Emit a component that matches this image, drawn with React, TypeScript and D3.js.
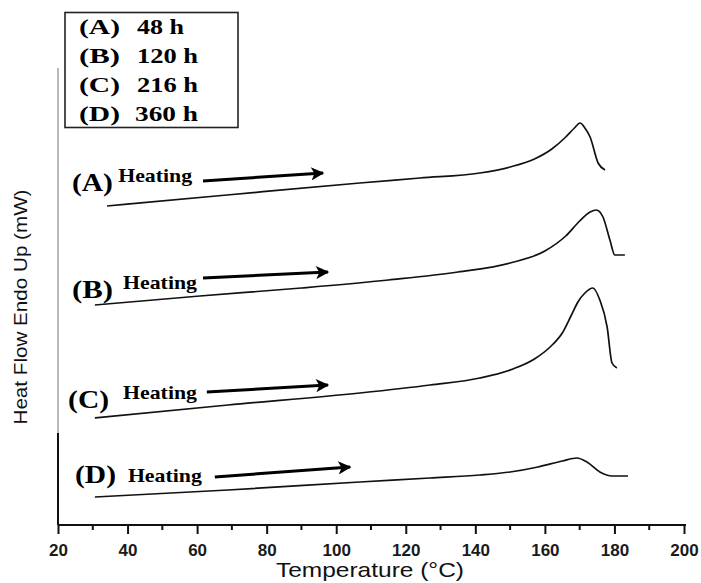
import * as d3 from 'd3'
import { useEffect, useRef } from 'react'

// DSC traces, temperature (°C) vs heat flow (arbitrary units)
const tempA = [34.1, 68.6, 106.8, 124.1, 141.3, 150.0, 157.0, 162.0, 166.0, 168.5, 170.1, 171.5, 173.0, 175.3, 177.3]
const flowA = [32.0, 33.1, 34.3, 34.8, 35.3, 35.9, 36.7, 37.7, 38.9, 39.8, 40.3, 39.8, 38.9, 36.3, 35.6]
const tempB = [30.6, 60.8, 90.0, 115.0, 135.0, 150.0, 160.0, 166.0, 170.0, 173.0, 174.8, 176.7, 178.7, 180.1, 183.0]
const flowB = [22.1, 23.0, 23.8, 24.6, 25.4, 26.3, 27.5, 29.0, 30.5, 31.4, 31.6, 30.9, 28.6, 27.1, 27.1]
const tempC = [30.6, 68.9, 106.8, 127.0, 141.3, 150.8, 157.0, 161.5, 165.0, 167.5, 169.5, 171.5, 173.8, 175.8, 177.9, 179.3, 180.7]
const flowC = [10.8, 12.1, 13.3, 14.1, 14.8, 15.7, 16.7, 17.9, 19.3, 21.0, 22.4, 23.3, 23.8, 22.6, 19.9, 16.3, 15.8]
const tempD = [30.6, 68.9, 106.8, 127.0, 141.3, 150.0, 158.0, 165.0, 169.2, 172.1, 175.8, 179.3, 183.9]
const flowD = [2.9, 3.6, 4.4, 4.8, 5.1, 5.4, 5.9, 6.5, 6.8, 6.4, 5.4, 5.0, 5.0]

const seriesNames = ['(A)', '(B)', '(C)', '(D)']
const holdTimes = ['48 h', '120 h', '216 h', '360 h']
const xTicks = [20, 40, 60, 80, 100, 120, 140, 160, 180, 200]

// annotation anchors in data units: label (T, flow), "Heating" (T, flow), arrow (T0, f0, T1, f1)
const labelAt = [[24.0, 33.5], [24.0, 22.8], [22.9, 11.8], [24.9, 4.3]]
const heatingAt = [[37.3, 34.4], [38.7, 23.7], [38.7, 12.7], [40.1, 4.4]]
const arrowAt = [[61.7, 34.5, 96.2, 35.3], [61.7, 24.8, 97.6, 25.4], [62.8, 13.4, 97.6, 14.1], [65.1, 4.9, 104.0, 5.9]]

const serif = '"Liberation Serif", "Times New Roman", serif'
const sans = '"Liberation Sans", Arial, sans-serif'

const App = () => {
  const ref = useRef<SVGSVGElement>(null)
  useEffect(() => {
    const width = 701, height = 583
    const svg = d3.select(ref.current)
    svg.selectAll('*').remove()
    const left = 58, right = 684, bottom = 525, top = 65
    const x = d3.scaleLinear().domain([20, 200]).range([left, right])
    const y = d3.scaleLinear().domain([0, 46]).range([bottom + 1, top + 1])

    // left axis: grey upper part, black lower part
    svg.append('line').attr('x1', left).attr('x2', left).attr('y1', 68).attr('y2', 433)
      .attr('stroke', '#8a8a8a').attr('stroke-width', 1.2)
    svg.append('line').attr('x1', left).attr('x2', left).attr('y1', 433).attr('y2', bottom)
      .attr('stroke', '#111').attr('stroke-width', 2)

    // bottom axis
    const xAxis = d3.axisBottom(x).tickValues(xTicks).tickSize(9).tickSizeOuter(0).tickFormat(d3.format('d'))
    const gx = svg.append('g').attr('transform', `translate(0,${bottom})`).call(xAxis)
    gx.select('.domain').attr('stroke', '#111').attr('stroke-width', 2.2).attr('d', `M${left},0H${right + 2}`)
    gx.selectAll('.tick line').attr('stroke', '#111').attr('stroke-width', 2)
    gx.selectAll('.tick text').attr('font-family', sans).attr('font-size', 17).attr('font-weight', 'bold')
      .attr('fill', '#1a1a1a').attr('dy', '1.1em')
    const minor = d3.range(30, 200, 20)
    gx.selectAll('.minor').data(minor).enter().append('line')
      .attr('x1', d => x(d)).attr('x2', d => x(d)).attr('y1', 0).attr('y2', 5)
      .attr('stroke', '#111').attr('stroke-width', 2)

    svg.append('text').attr('x', 370).attr('y', 577).attr('text-anchor', 'middle')
      .attr('font-family', sans).attr('font-size', 21).attr('fill', '#111')
      .attr('textLength', 188).attr('lengthAdjust', 'spacingAndGlyphs')
      .text('Temperature (°C)')
    svg.append('text').attr('transform', 'translate(27,307) rotate(-90)').attr('text-anchor', 'middle')
      .attr('font-family', sans).attr('font-size', 18).attr('fill', '#111')
      .attr('textLength', 235).attr('lengthAdjust', 'spacingAndGlyphs')
      .text('Heat Flow Endo Up (mW)')

    // curves
    const temps = [tempA, tempB, tempC, tempD]
    const flows = [flowA, flowB, flowC, flowD]
    const line = d3.line<[number, number]>().x(d => x(d[0])).y(d => y(d[1])).curve(d3.curveMonotoneX)
    temps.forEach((t, i) => {
      const pts = t.map((v, j) => [v, flows[i][j]] as [number, number])
      svg.append('path').attr('d', line(pts)).attr('fill', 'none')
        .attr('stroke', '#111').attr('stroke-width', 1.7).attr('stroke-linejoin', 'round')
    })

    // labels, "Heating" and arrows
    const defs = svg.append('defs')
    defs.append('marker').attr('id', 'arrowHead').attr('viewBox', '0 0 10 10').attr('refX', 9).attr('refY', 5)
      .attr('markerWidth', 6).attr('markerHeight', 4.4).attr('markerUnits', 'strokeWidth').attr('orient', 'auto')
      .append('path').attr('d', 'M0,0L10,5L0,10L2.5,5Z').attr('fill', '#000')
    seriesNames.forEach((name, i) => {
      svg.append('text').attr('x', x(labelAt[i][0])).attr('y', y(labelAt[i][1]))
        .attr('font-family', serif).attr('font-weight', 'bold').attr('font-size', 25).attr('fill', '#000')
        .attr('textLength', 41).attr('lengthAdjust', 'spacingAndGlyphs').text(name)
      svg.append('text').attr('x', x(heatingAt[i][0])).attr('y', y(heatingAt[i][1]))
        .attr('font-family', serif).attr('font-weight', 'bold').attr('font-size', 19.5).attr('fill', '#000')
        .attr('textLength', 74).attr('lengthAdjust', 'spacingAndGlyphs').text('Heating')
      const a = arrowAt[i]
      svg.append('line').attr('x1', x(a[0])).attr('y1', y(a[1])).attr('x2', x(a[2])).attr('y2', y(a[3]))
        .attr('stroke', '#000').attr('stroke-width', 3).attr('marker-end', 'url(#arrowHead)')
    })

    // legend box
    svg.append('rect').attr('x', 65).attr('y', 12.5).attr('width', 173).attr('height', 115)
      .attr('fill', 'none').attr('stroke', '#222').attr('stroke-width', 1.6)
    const valueWidths = [47, 61, 61, 63]
    const valueX = [137, 137, 137, 135]
    seriesNames.forEach((name, i) => {
      const by = 34 + i * 29
      svg.append('text').attr('x', 79).attr('y', by)
        .attr('font-family', serif).attr('font-weight', 'bold').attr('font-size', 22).attr('fill', '#000')
        .attr('textLength', 41).attr('lengthAdjust', 'spacingAndGlyphs').text(name)
      svg.append('text').attr('x', valueX[i]).attr('y', by)
        .attr('font-family', serif).attr('font-weight', 'bold').attr('font-size', 22).attr('fill', '#000')
        .attr('textLength', valueWidths[i]).attr('lengthAdjust', 'spacingAndGlyphs').text(holdTimes[i])
    })
    svg.attr('width', width).attr('height', height)
  }, [])
  return (
    <div style={{ position: 'absolute', left: 0, top: 0 }}>
      <svg ref={ref} width={701} height={583} style={{ display: 'block', background: '#fff' }} />
    </div>
  )
}
export default App
